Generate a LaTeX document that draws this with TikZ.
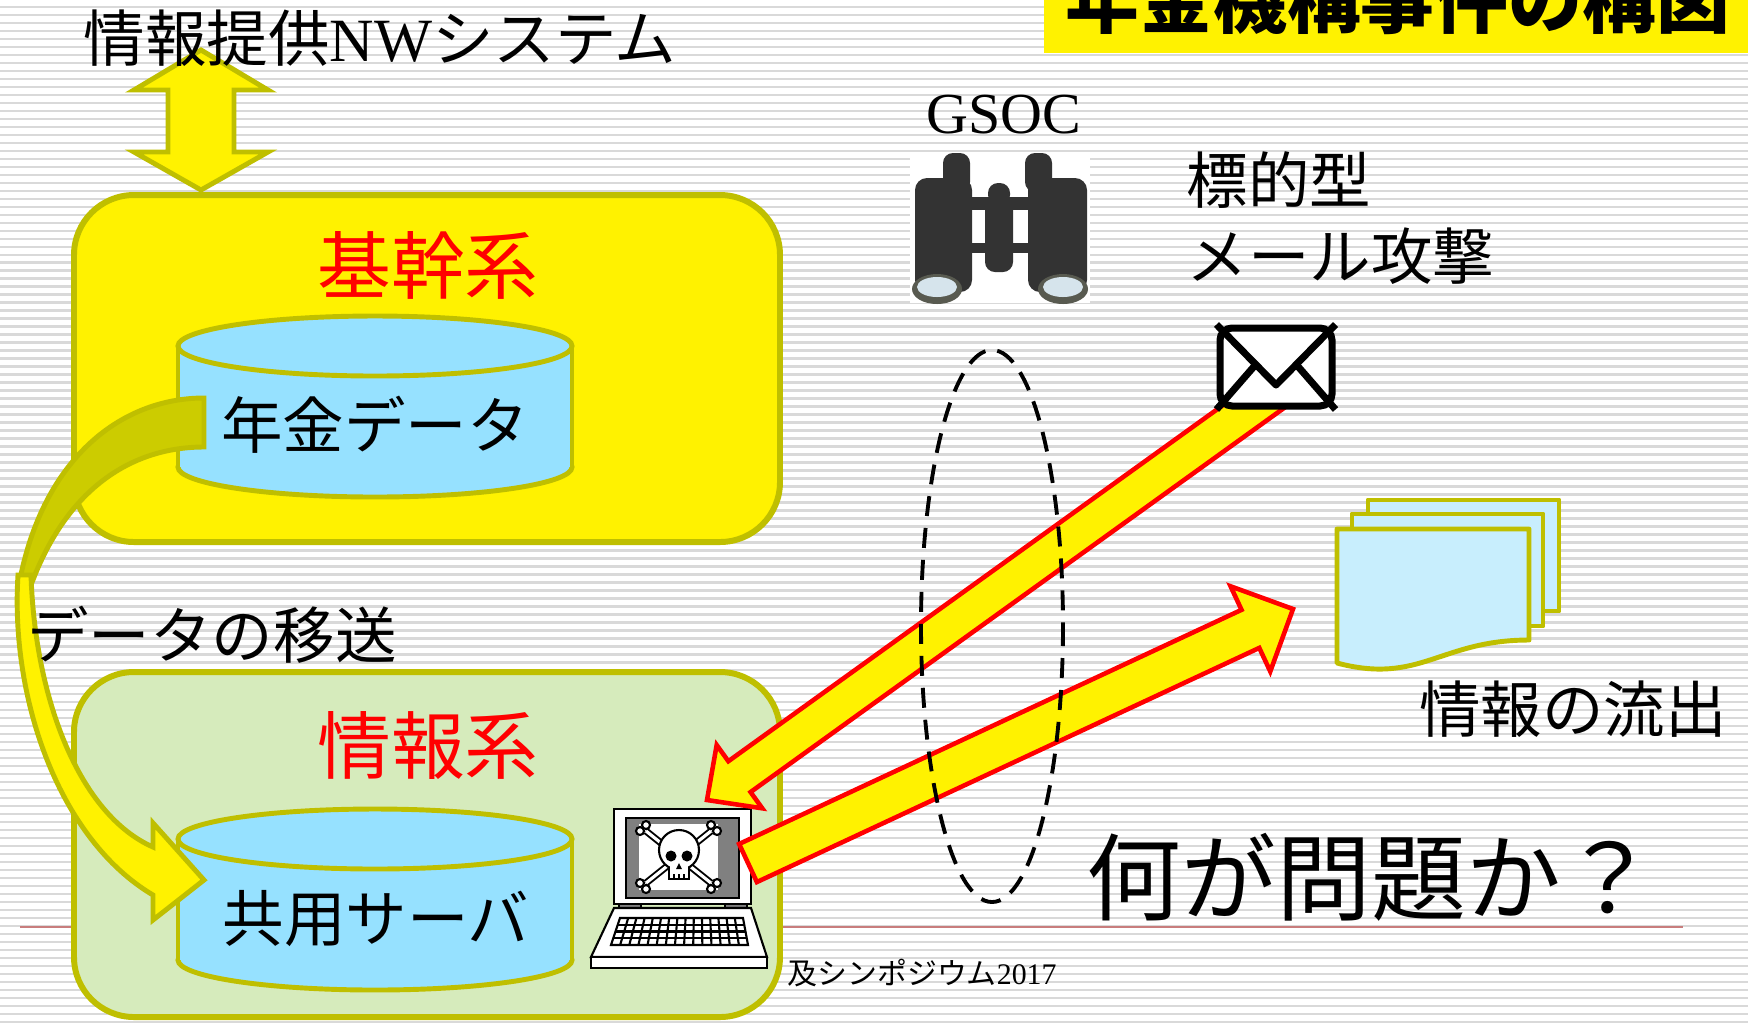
\documentclass[tikz,border=0pt]{standalone}
\usepackage{fontspec}
\setmainfont{Liberation Serif}
\newfontfamily\jp{Noto Sans CJK JP}
\usetikzlibrary{calc}

\definecolor{boxline}{RGB}{191,191,0}
\definecolor{shade}{RGB}{204,204,0}
\definecolor{drumblue}{RGB}{150,225,255}
\definecolor{infogreen}{RGB}{214,235,188}
\definecolor{sheetblue}{RGB}{200,238,253}
\definecolor{stripe}{RGB}{217,217,217}
\definecolor{footred}{RGB}{200,125,125}
\definecolor{scopegray}{RGB}{51,51,51}
\definecolor{lensrim}{RGB}{88,90,80}
\definecolor{lensglass}{RGB}{214,228,236}

% block arrow: style, from, to, half shaft, head length, half head
\newcommand\blockarrow[6]{%
  \path ($(#3)!#5!(#2)$) coordinate (ba-base);
  \draw[#1] ($(#2)!#4!90:(#3)$) -- ($(ba-base)!#4!90:(#3)$)
    -- ($(ba-base)!#6!90:(#3)$) -- (#3) -- ($(ba-base)!#6!-90:(#3)$)
    -- ($(ba-base)!#4!-90:(#3)$) -- ($(#2)!#4!-90:(#3)$) -- cycle;
}

% data drum: centre x, top y
\newcommand\drum[2]{%
  \begin{scope}[shift={(#1,#2)}]
    \filldraw[drum] (0,121) ellipse [x radius=197, y radius=30];
    \fill[drumblue] (-197,0) rectangle (197,121);
    \draw[drumside] (-197,0) -- (-197,121) (197,0) -- (197,121);
    \filldraw[drum] (0,0) ellipse [x radius=197, y radius=30];
  \end{scope}
}

\begin{document}
\begin{tikzpicture}[x=0.1mm, y=-0.1mm,
    sysbox/.style={draw=boxline, line width=1.7pt, rounded corners=6mm},
    drum/.style={draw=boxline, line width=1.4pt, fill=drumblue},
    drumside/.style={draw=boxline, line width=1.4pt},
    jlabel/.style={inner sep=0, font=\jp\fontsize{17.5pt}{21pt}\selectfont},
    redlabel/.style={inner sep=0, text=red, font=\jp\fontsize{21pt}{24pt}\selectfont},
    attack/.style={fill=yellow, draw=red, line width=1.3pt},
    flow/.style={fill=yellow, draw=boxline, line width=1.4pt},
    sheet/.style={fill=sheetblue, draw=boxline, line width=1.4pt, line join=round}]

  \useasboundingbox (0,0) rectangle (1748,1023);
  \clip (0,0) rectangle (1748,1023);

  % striped slide background
  \fill[white] (0,0) rectangle (1748,1023);
  \foreach \k in {0,...,127}
    \fill[stripe] (0,{5.8+7.99*\k}) rectangle +(1748,2.5);
  \draw[footred, line width=0.6pt] (20,927) -- (1683,927);

  % title bar
  \fill[yellow] (1044,-10) rectangle (1748,53);
  \node[anchor=west, inner sep=0, font=\jp\bfseries\fontsize{21pt}{24pt}\selectfont] (title) at (1065,-1) {年金機構事件の構図};

  % link to the outside network
  \filldraw[flow] (201,50) -- (268,90) -- (234,90) -- (234,152) -- (268,152)
    -- (201,190) -- (134,152) -- (168,152) -- (168,90) -- (134,90) -- cycle;
  \node[jlabel] (nwsys) at (380,38) {情報提供{\rmfamily NW}システム};

  % the two systems
  \filldraw[sysbox, fill=yellow] (74,195) rectangle (780,542);
  \filldraw[sysbox, fill=infogreen] (74,672) rectangle (780,1017);
  \node[redlabel] (kikan) at (428,265) {基幹系};
  \node[redlabel] (joho) at (428,746) {情報系};

  \drum{375}{346}
  \drum{375}{839}
  \node[jlabel] (pension) at (375,425) {年金データ};
  \node[jlabel] (shared) at (376,919) {共用サーバ};

  % data transfer (curved arrow)
  \filldraw[fill=shade, draw=boxline, line width=1.4pt] (204,398)
    .. controls (120,398) and (40,460) .. (18,590) -- (31,585)
    .. controls (70,480) and (140,447) .. (204,447) -- cycle;
  \filldraw[flow] (18,575) .. controls (10,700) and (60,840) .. (153,895)
    -- (153,920) -- (204,880) -- (153,823) -- (153,847)
    .. controls (80,815) and (35,700) .. (31,575) -- cycle;
  \node[jlabel] (move) at (212,635) {データの移送};

  % infected laptop
  \begin{scope}[line width=0.6pt]
    \filldraw[fill=white] (614,809) rectangle (751,904);
    \filldraw[fill=gray] (626,818) rectangle (739,898);
    \fill[white] (639,824) rectangle (718,890);
    \filldraw[fill=gray] (619,904) rectangle (641,908);
    \filldraw[fill=gray] (725,904) rectangle (747,908);
    \filldraw[fill=white] (614,908) -- (751,908) -- (767,957) -- (591,957) -- cycle;
    \filldraw[fill=white] (591,957) rectangle (767,968);
    \filldraw[fill=white] (620,918) -- (743,918) -- (748,945) -- (611,945) -- cycle;
    \foreach \r in {1,2,3}
      \draw ($(620,918)!\r/4!(611,945)$) -- ($(743,918)!\r/4!(748,945)$);
    \foreach \c in {1,...,14}
      \draw ($(620,918)!\c/15!(743,918)$) -- ($(611,945)!\c/15!(748,945)$);
    % skull and bones
    \foreach \ax/\ay/\bx/\by in {646/831/711/883, 711/831/646/883} {
      \draw[line width=2pt] (\ax,\ay) -- (\bx,\by);
      \draw[white, line width=0.9pt] (\ax,\ay) -- (\bx,\by);
    }
    \foreach \px/\py in {640/831, 646/825, 717/831, 711/825, 640/883, 646/889, 717/883, 711/889}
      \filldraw[fill=white] (\px,\py) circle [radius=4];
    \filldraw[fill=white] (669,862) rectangle (689,879);
    \filldraw[fill=white] (679,850) circle [radius=20];
    \fill[white] (670,862) rectangle (688,872);
    \fill (671,856) circle [radius=5.5];
    \fill (687,856) circle [radius=5.5];
    \fill (679,863) -- (676,869) -- (682,869) -- cycle;
    \foreach \tx in {674,679,684}
      \draw (\tx,874) -- (\tx,879);
  \end{scope}

  % monitoring
  \node[inner sep=0, font=\fontsize{16.5pt}{20pt}\selectfont] (gsoc) at (1004,115) {GSOC};
  \fill[white] (910,152) rectangle (1090,303);
  \begin{scope}[fill=scopegray]
    \fill[rounded corners=1mm] (943,153) rectangle (970,192);
    \fill[rounded corners=1mm] (1025,153) rectangle (1052,192);
    \fill[rounded corners=1.2mm] (915,178) rectangle (972,292);
    \fill[rounded corners=1.2mm] (1028,178) rectangle (1087,292);
    \fill[rounded corners=1mm] (988,183) rectangle (1010,205);
    \fill[rounded corners=1mm] (985,195) rectangle (1013,272);
    \fill (970,197) rectangle (1030,210);
    \fill (970,243) rectangle (1030,253);
  \end{scope}
  \fill[lensrim] (937,289) ellipse [x radius=25, y radius=15];
  \fill[lensglass] (937,287) ellipse [x radius=20, y radius=10];
  \fill[lensrim] (1063,289) ellipse [x radius=25, y radius=15];
  \fill[lensglass] (1063,287) ellipse [x radius=20, y radius=10];

  % targeted mail
  \node[jlabel, anchor=west] (target) at (1186,180) {標的型};
  \node[jlabel, anchor=west] (mailatk) at (1186,256) {メール攻撃};

  \coordinate (mailtail) at (1289,381);
  \coordinate (hit) at (707,800);
  \blockarrow{attack}{mailtail}{hit}{1.9mm}{4mm}{3.9mm}

  \coordinate (leak) at (748,863);
  \coordinate (out) at (1293,609);
  \blockarrow{attack}{leak}{out}{2.1mm}{4.7mm}{4.7mm}

  \draw[line width=1.1pt, dash pattern=on 2mm off 1.2mm] (992,626) ellipse [x radius=71, y radius=276];

  \node[draw, fill=white, line width=2pt, rounded corners=1.2mm, inner sep=0,
        minimum width=11.2mm, minimum height=7.8mm] (mail) at (1276,367) {};
  \coordinate (vtip) at ($(mail.center)+(0,18)$);
  \draw[line width=2pt, line join=round] (mail.north west) -- (vtip) -- (mail.north east);
  \draw[line width=2pt] (mail.south west) -- ($(mail.north west)!0.66!(vtip)$);
  \draw[line width=2pt] (mail.south east) -- ($(mail.north east)!0.66!(vtip)$);

  % leaked documents
  \filldraw[sheet] (1368,500) rectangle (1559,611);
  \filldraw[sheet] (1352,514) rectangle (1543,626);
  \filldraw[sheet] (1337,529) -- (1529,529) -- (1529,640)
    .. controls (1440,640) and (1420,685) .. (1337,663) -- cycle;
  \node[jlabel] (leaklabel) at (1573,709) {情報の流出};

  \node[anchor=west, inner sep=0, font=\jp\fontsize{27pt}{32pt}\selectfont] (question) at (1086,877) {何が問題か？};
  \node[anchor=west, inner sep=0, font=\fontsize{8.5pt}{10pt}\selectfont] (footer) at (787,973) {{\jp 及シンポジウム}2017};
\end{tikzpicture}
\end{document}
